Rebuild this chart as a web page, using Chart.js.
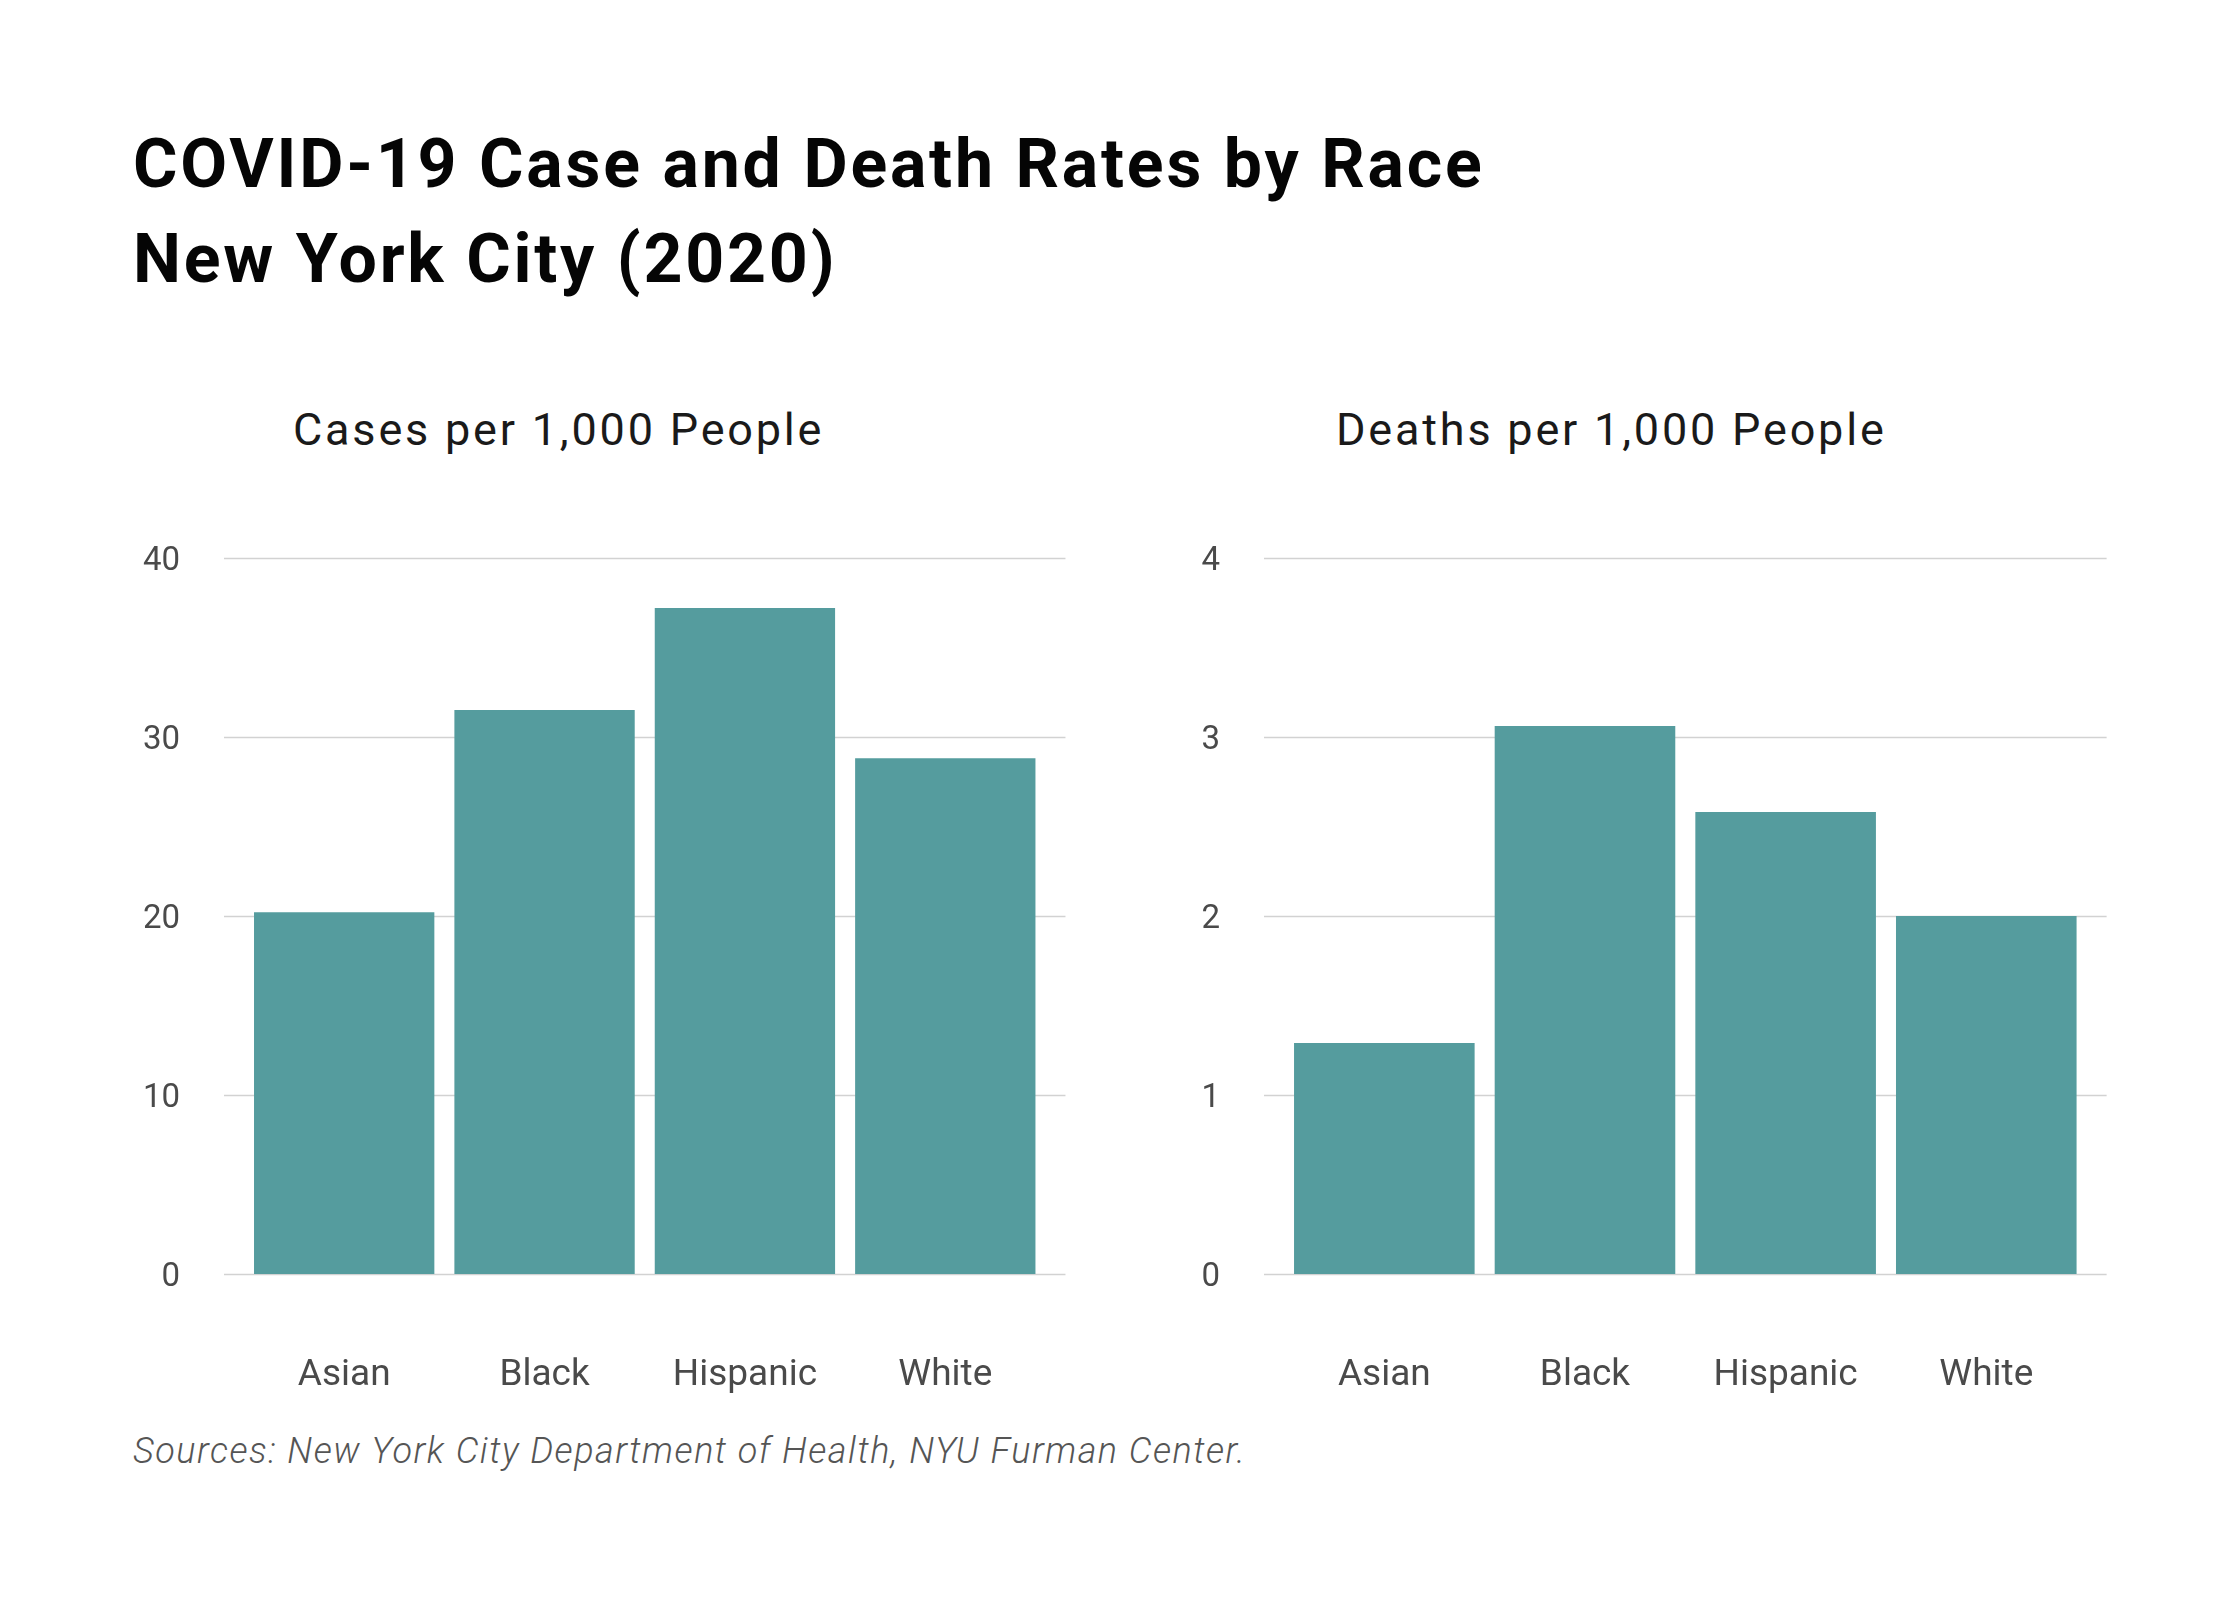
<!DOCTYPE html>
<html lang="en">
<head>
<meta charset="utf-8">
<title>COVID-19 Case and Death Rates by Race</title>
<script src="https://cdn.jsdelivr.net/npm/chart.js@4.4.1/dist/chart.umd.min.js"></script>
<style>
  html, body { margin: 0; padding: 0; background: #fff; }
  .page { position: relative; width: 2240px; height: 1600px; overflow: hidden; font-family: Roboto, "Noto Sans", sans-serif; }
  .title { position: absolute; left: 133px; font-size: 68px; font-weight: 700; line-height: 95px; letter-spacing: 2.8px; color: #050505; white-space: nowrap; }
  .panel-title { position: absolute; top: 407px; font-size: 45px; line-height: 45px; letter-spacing: 2.8px; color: #1a1a1a; white-space: nowrap; }
  .source { position: absolute; left: 133px; top: 1433px; font-size: 36px; line-height: 36px; letter-spacing: 1.5px; font-style: italic; font-weight: 300; color: #555; white-space: nowrap; }
  canvas { position: absolute; }
</style>
</head>
<body>
<div class="page">
  <div class="title" style="top:117px">COVID-19 Case and Death Rates by Race</div>
  <div class="title" style="top:212px">New York City (2020)</div>
  <div class="panel-title" style="left:293px">Cases per 1,000 People</div>
  <div class="panel-title" style="left:1336px">Deaths per 1,000 People</div>
  <canvas id="casesChart" width="976" height="940" style="left:100px; top:474px"></canvas>
  <canvas id="deathsChart" width="977" height="940" style="left:1140px; top:474px"></canvas>
  <div class="source">Sources: New York City Department of Health, NYU Furman Center.</div>
</div>
<script>
const races = ["Asian", "Black", "Hispanic", "White"];
const casesPer1000 = [20.2, 31.5, 37.2, 28.8];
const deathsPer1000 = [1.29, 3.06, 2.58, 2.0];
const caseTicks = [0, 10, 20, 30, 40];
const deathTicks = [0, 1, 2, 3, 4];

const barColor = "#559c9e";
const gridColor = "#d2d2d2";
const labelColor = "#4a4a4a";

// horizontal grid lines, running a little past the bars on both sides
const wideGrid = {
  id: "wideGrid",
  beforeDatasetsDraw(chart) {
    const { ctx, chartArea, scales } = chart;
    const ext = 20;
    ctx.save();
    ctx.strokeStyle = gridColor;
    ctx.lineWidth = 1.5;
    scales.y.ticks.forEach((t) => {
      const y = Math.round(scales.y.getPixelForValue(t.value)) + 0.5;
      ctx.beginPath();
      ctx.moveTo(chartArea.left - ext, y);
      ctx.lineTo(chartArea.right + ext, y);
      ctx.stroke();
    });
    ctx.restore();
  },
};

function makeChart(id, values, ticks) {
  const ctx = document.getElementById(id).getContext("2d");
  return new Chart(ctx, {
    type: "bar",
    data: {
      labels: races,
      datasets: [
        {
          data: values,
          backgroundColor: barColor,
          borderWidth: 0,
          barPercentage: 0.9,
          categoryPercentage: 1.0,
        },
      ],
    },
    options: {
      responsive: false,
      animation: false,
      devicePixelRatio: 1,
      // the y tick padding (64) also pads the top, so the canvas starts higher
      layout: { padding: { top: 0, right: 30, bottom: 10, left: 0 } },
      plugins: {
        legend: { display: false },
        tooltip: { enabled: false },
      },
      scales: {
        x: {
          grid: { display: false, drawTicks: false },
          border: { display: false },
          ticks: {
            color: labelColor,
            padding: 80,
            font: { family: "Roboto", size: 37 },
          },
          afterFit: (scale) => { scale.height = 130; },
        },
        y: {
          min: ticks[0],
          max: ticks[ticks.length - 1],
          grid: { display: false, drawTicks: false },
          border: { display: false },
          ticks: {
            color: labelColor,
            padding: 64,
            labelOffset: 4,
            font: { family: "Roboto", size: 33 },
          },
          afterBuildTicks: (scale) => {
            scale.ticks = ticks.map((v) => ({ value: v }));
          },
          afterFit: (scale) => { scale.width = 144; },
        },
      },
    },
    plugins: [wideGrid],
  });
}

makeChart("casesChart", casesPer1000, caseTicks);
makeChart("deathsChart", deathsPer1000, deathTicks);
</script>
</body>
</html>
